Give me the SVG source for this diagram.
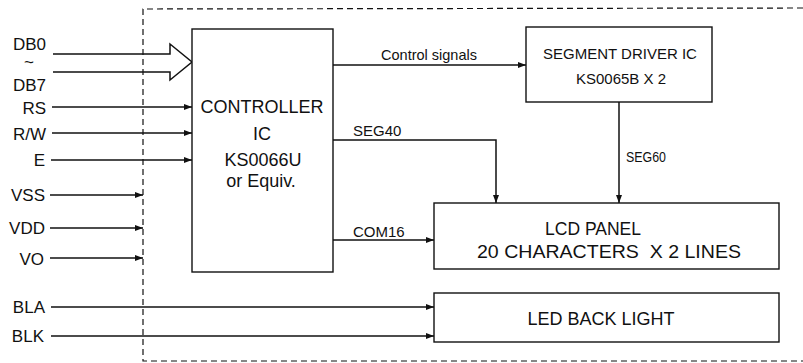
<svg xmlns="http://www.w3.org/2000/svg" width="803" height="363" viewBox="0 0 803 363">
<defs>
<marker id="ah" markerWidth="8" markerHeight="6" refX="8" refY="3" orient="auto" markerUnits="userSpaceOnUse">
<path d="M0,0 L8,3 L0,6 Z" fill="#111"/>
</marker>
<style>
text{font-family:"Liberation Sans",Arial,sans-serif;fill:#111}
.lbl{font-size:17px;text-anchor:end}
.box{fill:#fff;stroke:#111;stroke-width:1.4}
.ln{fill:none;stroke:#111;stroke-width:1.5}
.arr{fill:none;stroke:#111;stroke-width:1.5;marker-end:url(#ah)}
.dash{fill:none;stroke:#111;stroke-width:1.2;stroke-dasharray:6 4}
</style>
</defs>
<rect width="803" height="363" fill="#fff"/>
<path class="dash" d="M803,8 L143,9 L143,361 L803,361"/>

<g id="connectors">
<path class="ln" d="M53,54 L170,54 L170,44 L192,62 L170,80 L170,72 L53,72"/>
<line class="arr" x1="52" y1="107" x2="192" y2="107"/>
<line class="arr" x1="52" y1="133" x2="192" y2="133"/>
<line class="arr" x1="51" y1="160" x2="192" y2="160"/>
<line class="arr" x1="50" y1="195" x2="143" y2="195"/>
<line class="arr" x1="50" y1="228" x2="143" y2="228"/>
<line class="arr" x1="50" y1="258" x2="143" y2="258"/>
<line class="arr" x1="51" y1="307" x2="434" y2="307"/>
<line class="arr" x1="51" y1="336" x2="434" y2="336"/>
<line class="arr" x1="333" y1="65" x2="526" y2="65"/>
<path class="arr" d="M333,140 L496,140 L496,203"/>
<line class="arr" x1="619" y1="102" x2="619" y2="203"/>
<line class="arr" x1="333" y1="240" x2="434" y2="240"/>
<text x="429" y="60" font-size="14.5" text-anchor="middle">Control signals</text>
<text x="353" y="136" font-size="15">SEG40</text>
<text x="626" y="162" font-size="14" textLength="40" lengthAdjust="spacingAndGlyphs">SEG60</text>
<text x="353" y="237" font-size="15">COM16</text>
</g>

<g id="inputs">
<text class="lbl" x="46" y="50">DB0</text>
<text x="29" y="68" font-size="17" text-anchor="middle">~</text>
<text class="lbl" x="46" y="91">DB7</text>
<text class="lbl" x="46" y="114">RS</text>
<text class="lbl" x="46" y="140">R/W</text>
<text class="lbl" x="45" y="166">E</text>
<text class="lbl" x="45" y="201">VSS</text>
<text class="lbl" x="45" y="234">VDD</text>
<text class="lbl" x="44" y="265">VO</text>
<text class="lbl" x="45" y="313">BLA</text>
<text class="lbl" x="44" y="342">BLK</text>
</g>

<g id="controller">
<rect class="box" x="192" y="29" width="141" height="243"/>
<text x="262" y="113" font-size="18" text-anchor="middle">CONTROLLER</text>
<text x="262" y="140" font-size="18" text-anchor="middle">IC</text>
<text x="263" y="166" font-size="18" text-anchor="middle">KS0066U</text>
<text x="261" y="187" font-size="18" text-anchor="middle">or Equiv.</text>
</g>

<g id="segment-driver">
<rect class="box" x="526" y="27" width="186" height="75"/>
<text x="620" y="59" font-size="15" text-anchor="middle">SEGMENT DRIVER IC</text>
<text x="621" y="84" font-size="15" text-anchor="middle">KS0065B X 2</text>
</g>

<g id="lcd-panel">
<rect class="box" x="434" y="203" width="345" height="66"/>
<text x="593" y="235" font-size="17.5" text-anchor="middle">LCD PANEL</text>
<text x="477" y="258" font-size="17.5" textLength="264" lengthAdjust="spacingAndGlyphs" xml:space="preserve">20 CHARACTERS  X 2 LINES</text>
</g>

<g id="led-back-light">
<rect class="box" x="434" y="293" width="345" height="49"/>
<text x="601" y="325" font-size="18" text-anchor="middle">LED BACK LIGHT</text>
</g>
</svg>
